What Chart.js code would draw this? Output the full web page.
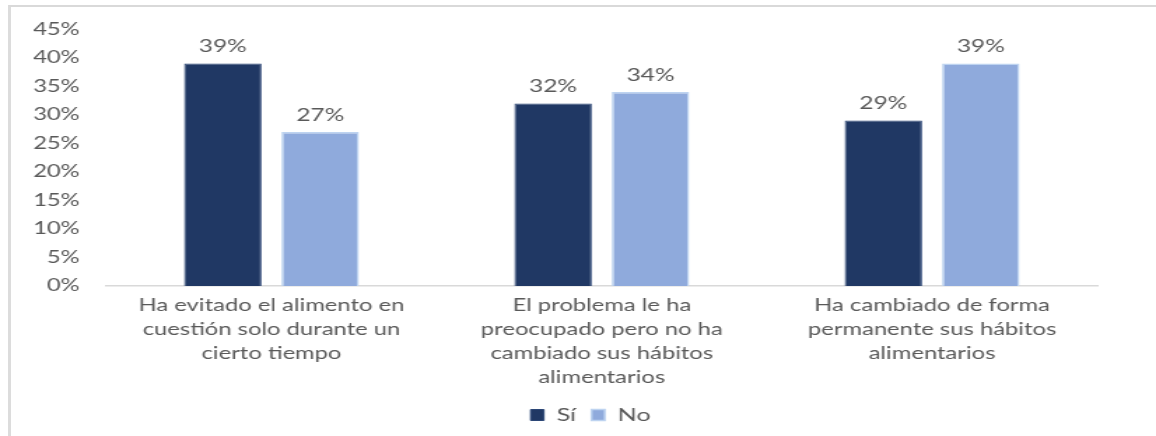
<!DOCTYPE html>
<html>
<head>
<meta charset="utf-8">
<script src="https://cdn.jsdelivr.net/npm/chart.js@4/dist/chart.umd.min.js"></script>
<style>
  html, body { margin: 0; padding: 0; background: #fff; overflow: hidden; }
  #wrap { position: absolute; left: 0; top: 0; width: 826px; height: 436px; transform: scaleX(1.3995); transform-origin: 0 0; }
  #frame { position: absolute; left: 8px; top: 5px; right: -10px; bottom: -10px; border-top: 2px solid #d9d9d9; border-left: 3px solid #dcdcdc; pointer-events: none; }
</style>
</head>
<body>
<div id="wrap"><canvas id="c" width="826" height="436"></canvas></div>
<div id="frame"></div>
<script>
const categories = [
  ["Ha evitado el alimento en", "cuestión solo durante un", "cierto tiempo"],
  ["El problema le ha", "preocupado pero no ha", "cambiado sus hábitos", "alimentarios"],
  ["Ha cambiado de forma", "permanente sus hábitos", "alimentarios"]
];
const seriesNames = ["Sí", "No"];
const siValues = [39, 32, 29];
const noValues = [27, 34, 39];
const yTicks = [0, 5, 10, 15, 20, 25, 30, 35, 40, 45];

const TEXT = '#595959';
const FONT = 'Lato';

const valueLabels = {
  id: 'valueLabels',
  afterDatasetsDraw(chart) {
    const ctx = chart.ctx;
    ctx.save();
    ctx.fillStyle = TEXT;
    ctx.font = '17.5px ' + FONT;
    ctx.textAlign = 'center';
    ctx.textBaseline = 'bottom';
    chart.data.datasets.forEach((ds, i) => {
      const meta = chart.getDatasetMeta(i);
      meta.data.forEach((el, j) => {
        ctx.fillText(ds.data[j] + '%', el.x, el.y - 8);
      });
    });
    ctx.restore();
  }
};

const shiftLegend = {
  id: 'shiftLegend',
  afterLayout(chart) {
    const l = chart.legend;
    if (l) { l.left += 30; l.right += 30; }
  }
};

function draw() {
  Chart.defaults.font.family = FONT;
  Chart.defaults.color = TEXT;
  new Chart(document.getElementById('c'), {
    type: 'bar',
    data: {
      labels: categories,
      datasets: [
        { label: seriesNames[0], data: siValues, backgroundColor: '#203864', borderColor: '#2b4676', borderWidth: 1 },
        { label: seriesNames[1], data: noValues, backgroundColor: '#8faadc', borderColor: '#bdd3f0', borderWidth: 1.5 }
      ]
    },
    options: {
      responsive: false,
      animation: false,
      devicePixelRatio: 1,
      layout: { padding: { left: 0, right: 42, top: 27, bottom: 2 } },
      datasets: { bar: { categoryPercentage: 0.59, barPercentage: 0.795 } },
      plugins: {
        legend: {
          position: 'bottom',
          labels: { boxWidth: 9.5, boxHeight: 11, padding: 11, font: { size: 18 }, color: TEXT }
        },
        tooltip: { enabled: false }
      },
      scales: {
        x: {
          grid: { display: false, drawTicks: false },
          border: { display: true, color: '#d9d9d9', width: 1.5 },
          ticks: { maxRotation: 0, autoSkip: false, padding: 8, font: { size: 17, lineHeight: 1.41 }, color: TEXT },
          afterFit(scale) { scale.height = 109; }
        },
        y: {
          min: 0, max: 45,
          grid: { display: false, drawTicks: false },
          border: { display: false },
          afterBuildTicks(scale) { scale.ticks = yTicks.map(v => ({ value: v })); },
          ticks: { padding: 19, font: { size: 17 }, color: TEXT, callback: v => v + '%' },
          afterFit(scale) { scale.width = 76; }
        }
      }
    },
    plugins: [valueLabels, shiftLegend]
  });
}
if (document.fonts && document.fonts.load) {
  document.fonts.load('17px Lato').then(draw, draw);
} else { draw(); }
</script>
</body>
</html>
